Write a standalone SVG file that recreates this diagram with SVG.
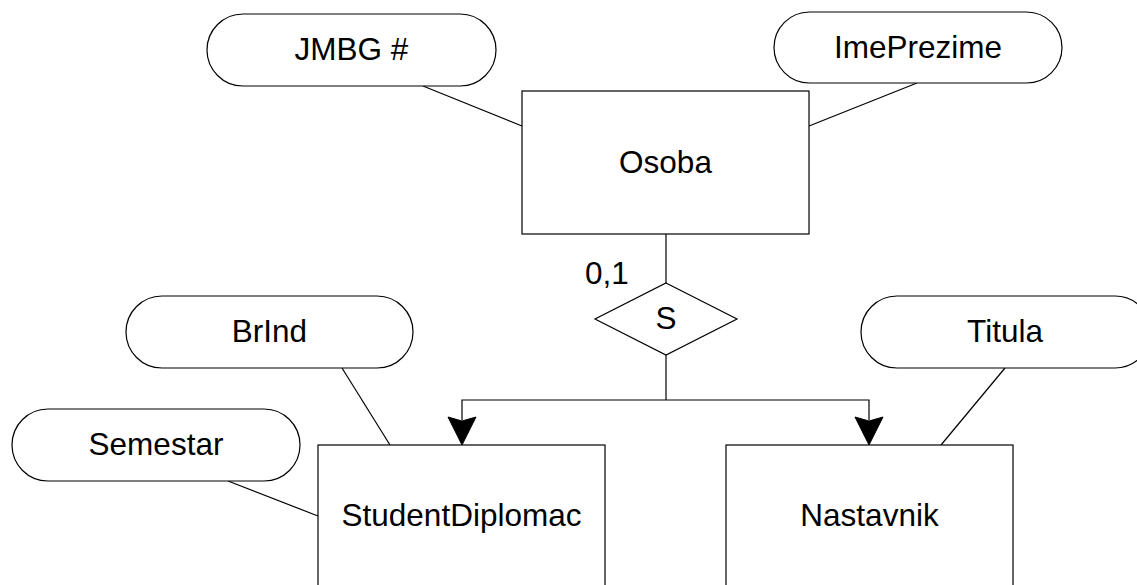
<svg xmlns="http://www.w3.org/2000/svg" width="1137" height="585" viewBox="0 0 1137 585">
  <style>
    .shape { fill: #ffffff; stroke: #000000; stroke-width: 1.2; }
    .link { fill: none; stroke: #000000; stroke-width: 1.2; }
    .lbl { font-family: "Liberation Sans", Arial, sans-serif; font-size: 31.5px; fill: #000000; text-anchor: middle; }
    .head { fill: #000000; stroke: #000000; stroke-width: 1; }
  </style>
  <defs>
    <path id="arrowHead" class="head" d="M -14 0 L 0 4 L 14 0 L 0 28 Z"/>
  </defs>
  <rect width="1137" height="585" fill="#ffffff"/>

  <!-- connectors -->
  <g id="connectors">
    <line class="link" x1="423" y1="86" x2="522" y2="126"/>
    <line class="link" x1="917" y1="83" x2="809" y2="126"/>
    <line class="link" x1="342" y1="368" x2="390" y2="445"/>
    <line class="link" x1="228" y1="481" x2="318" y2="516"/>
    <line class="link" x1="1005" y1="368" x2="941" y2="445"/>
    <line class="link" x1="666" y1="234" x2="666" y2="283"/>
    <line class="link" x1="666" y1="355" x2="666" y2="400"/>
    <polyline class="link" points="462,420 462,400 869,400 869,420"/>
    <use href="#arrowHead" x="462" y="417"/>
    <use href="#arrowHead" x="869" y="417"/>
    <text class="lbl" x="607" y="284">0,1</text>
  </g>

  <!-- entities -->
  <g id="osoba">
    <rect class="shape" x="522" y="91" width="287" height="143"/>
    <text class="lbl" x="665.5" y="173">Osoba</text>
  </g>
  <g id="studentDiplomac">
    <rect class="shape" x="318" y="445" width="287" height="160"/>
    <text class="lbl" x="461.5" y="526">StudentDiplomac</text>
  </g>
  <g id="nastavnik">
    <rect class="shape" x="726" y="445" width="287" height="160"/>
    <text class="lbl" x="869.5" y="526">Nastavnik</text>
  </g>

  <!-- specialization -->
  <g id="specS">
    <polygon class="shape" points="666,283 737,319 666,355 595,319"/>
    <text class="lbl" x="666" y="329">S</text>
  </g>

  <!-- attributes -->
  <g id="attrJmbg">
    <rect class="shape" x="207" y="14" width="289" height="72" rx="36" ry="36"/>
    <text class="lbl" x="351.5" y="60">JMBG #</text>
  </g>
  <g id="attrImePrezime">
    <rect class="shape" x="774" y="12" width="288" height="71" rx="35.5" ry="35.5"/>
    <text class="lbl" x="918" y="57.5">ImePrezime</text>
  </g>
  <g id="attrBrInd">
    <rect class="shape" x="126" y="296" width="287" height="72" rx="36" ry="36"/>
    <text class="lbl" x="269.5" y="342">BrInd</text>
  </g>
  <g id="attrSemestar">
    <rect class="shape" x="12" y="409" width="288" height="72" rx="36" ry="36"/>
    <text class="lbl" x="156" y="455">Semestar</text>
  </g>
  <g id="attrTitula">
    <rect class="shape" x="861" y="296" width="290" height="72" rx="36" ry="36"/>
    <text class="lbl" x="1005" y="342">Titula</text>
  </g>
</svg>
